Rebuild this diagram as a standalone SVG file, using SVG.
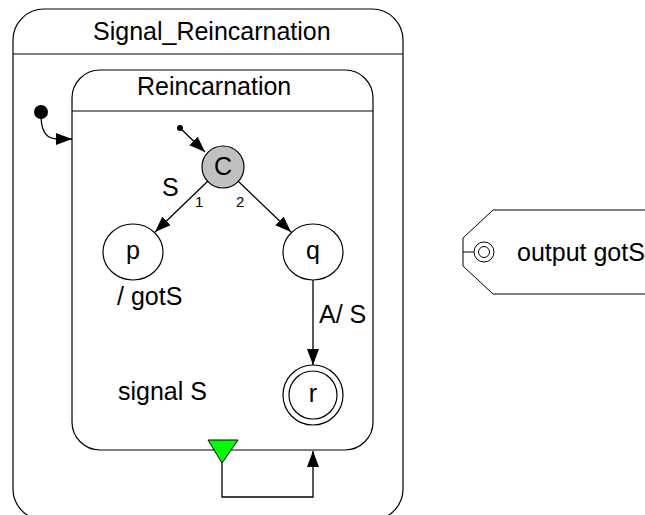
<svg xmlns="http://www.w3.org/2000/svg" width="645" height="515" viewBox="0 0 645 515">
<defs>
<style>
.box{fill:#fff;stroke:#000;stroke-width:1.2}
.ln{fill:none;stroke:#000;stroke-width:1.3}
.t{font-family:"Liberation Sans",Arial,sans-serif;font-size:25px;fill:#000}
.s{font-family:"Liberation Sans",Arial,sans-serif;font-size:15px;fill:#000}
</style>
<marker id="ah" markerUnits="userSpaceOnUse" markerWidth="18" markerHeight="14" refX="16" refY="6" orient="auto">
<path d="M0,0 L16,6 L0,12 z" fill="#000"/>
</marker>
</defs>
<rect width="645" height="515" fill="#fff"/>
<g id="Signal_Reincarnation">
<rect class="box" x="13" y="9" width="390" height="511" rx="31" ry="31"/>
<line class="box" x1="13" y1="54" x2="403" y2="54"/>
<text class="t" x="93" y="40">Signal_Reincarnation</text>
</g>
<g id="Reincarnation">
<rect class="box" x="72" y="70" width="301" height="380" rx="28" ry="28"/>
<line class="box" x1="72" y1="111" x2="373" y2="111"/>
<text class="t" x="137" y="95">Reincarnation</text>
<text class="t" x="118" y="400">signal S</text>
</g>
<g id="init_outer">
<circle cx="41" cy="112" r="7" fill="#000"/>
</g>
<g id="init_inner">
<circle cx="180" cy="128" r="3" fill="#000"/>
</g>
<g id="C">
<circle cx="223" cy="167" r="21" fill="#c0c0c0" stroke="#000" stroke-width="1.2"/>
<text class="t" x="223" y="175" text-anchor="middle">C</text>
</g>
<g id="p">
<ellipse cx="133" cy="252" rx="30" ry="28" fill="#fff" stroke="#000" stroke-width="1.2"/>
<text class="t" x="133" y="259" text-anchor="middle">p</text>
<text class="t" x="117" y="305">/ gotS</text>
</g>
<g id="q">
<ellipse cx="313" cy="252" rx="30" ry="28" fill="#fff" stroke="#000" stroke-width="1.2"/>
<text class="t" x="313" y="259" text-anchor="middle">q</text>
</g>
<g id="r">
<circle cx="313" cy="395" r="30" fill="#fff" stroke="#000" stroke-width="1.2"/>
<circle cx="313" cy="395" r="24" fill="none" stroke="#000" stroke-width="1.2"/>
<text class="t" x="313" y="402" text-anchor="middle">r</text>
</g>
<g id="exit">
<polygon points="208,440 238,440 222,463" fill="#00ff00" stroke="#000" stroke-width="1"/>
</g>
<g id="output_gotS">
<polygon points="493,210 660,210 660,294 493,294 463,266 463,238" fill="#fff" stroke="#000" stroke-width="1"/>
<line x1="463" y1="252" x2="474" y2="252" stroke="#000" stroke-width="1"/>
<circle cx="484" cy="252" r="10" fill="none" stroke="#000" stroke-width="1"/>
<circle cx="484" cy="252" r="5.5" fill="none" stroke="#000" stroke-width="1"/>
<text class="t" x="517" y="261">output gotS</text>
</g>
<g id="connectors">
<path class="ln" d="M41,118 C42,133 47,139 58,139 L72,139" marker-end="url(#ah)"/>
<path class="ln" d="M180,128 L205,152" marker-end="url(#ah)"/>
<path class="ln" d="M208,181 L155,232" marker-end="url(#ah)"/>
<path class="ln" d="M238,181 L291,232" marker-end="url(#ah)"/>
<path class="ln" d="M313,280 L313,365" marker-end="url(#ah)"/>
<path class="ln" d="M222,463 L222,497 L313,497 L313,451" marker-end="url(#ah)"/>
<text class="t" x="162" y="196">S</text>
<text class="s" x="195" y="207">1</text>
<text class="s" x="236" y="207">2</text>
<text class="t" x="319" y="323">A/ S</text>
</g>
</svg>
